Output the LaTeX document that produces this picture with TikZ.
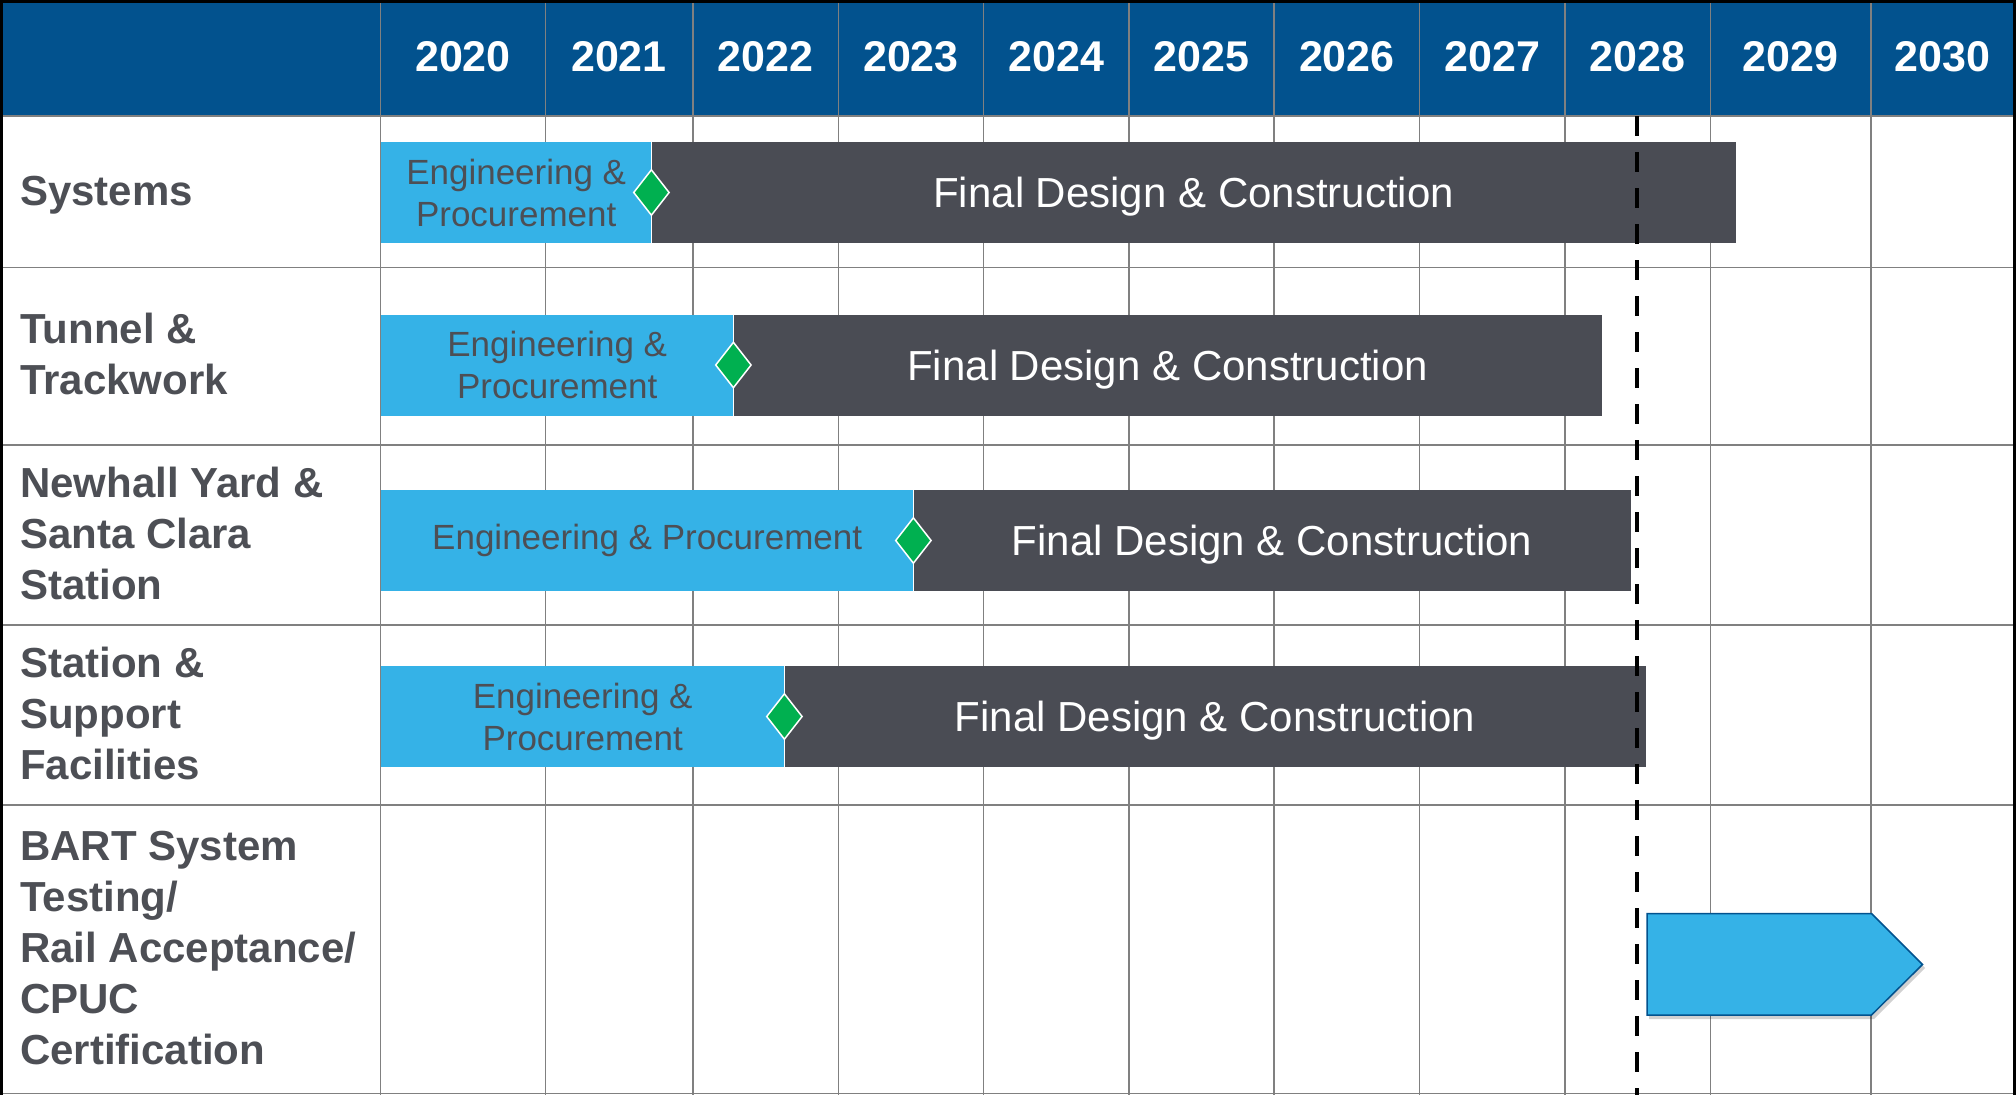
\documentclass[tikz,border=0pt]{standalone}
\usepackage{fontspec}
\setmainfont{Liberation Sans}
\usetikzlibrary{positioning,shapes.geometric,calc}

\definecolor{hdrblue}{HTML}{02528E}
\definecolor{engblue}{HTML}{35B2E7}
\definecolor{fdgray}{HTML}{4A4C54}
\definecolor{txtgray}{HTML}{4D4F55}
\definecolor{msgreen}{HTML}{00B050}
\definecolor{gridgray}{HTML}{808080}

\begin{document}
\begin{tikzpicture}[x=1pt,y=-1pt,
    year/.style={text=white,inner sep=0pt,font=\fontsize{43}{50}\selectfont\bfseries},
    rowlabel/.style={anchor=west,inner sep=0pt,align=left,text=txtgray,font=\fontsize{42}{51}\selectfont\bfseries},
    engbar/.style={anchor=west,fill=engblue,inner sep=0pt,minimum height=101pt,align=center,text=txtgray,font=\fontsize{35}{42}\selectfont},
    fdbar/.style={right=0pt of #1,fill=fdgray,inner sep=0pt,text depth=0pt,minimum height=101pt,text=white,font=\fontsize{42}{50}\selectfont},
    milestone/.style={diamond,fill=msgreen,draw=white,line width=1.5pt,minimum width=36pt,minimum height=46pt,inner sep=0pt},
    gridline/.style={gridgray,line width=1.5pt}
]
    \useasboundingbox (0,0) rectangle (2016,1095);

    % ヘッダー
    \fill[hdrblue] (0,0) rectangle (2016,116);

    % 罫線
    \foreach \gx in {380.6,545.3,693,838.5,983.7,1129,1274.2,1419.5,1565,1710.5,1871}
        \draw[gridline] (\gx,0) -- (\gx,1095);
    \foreach \gy in {116,267.5,445,625,805,1093.5}
        \draw[gridline] (0,\gy) -- (2016,\gy);

    % 年
    \foreach \yr/\xc in {2020/463,2021/619,2022/765.8,2023/911,2024/1056.4,2025/1201.6,2026/1346.9,2027/1492.3,2028/1637.8,2029/1790.8,2030/1942.5}
        \node[year] (y\yr) at (\xc,57) {\yr};

    % 行ラベル
    \node[rowlabel] (sys) at (20,195.5) {Systems};
    \node[rowlabel] (tun) at (20,354) {Tunnel \&\\Trackwork};
    \node[rowlabel] (new) at (20,533) {Newhall Yard \&\\Santa Clara\\Station};
    \node[rowlabel] (sta) at (20,713) {Station \&\\Support\\Facilities};
    \node[rowlabel] (bart) at (20,948.5) {BART System\\Testing/\\Rail Acceptance/\\CPUC\\Certification};

    % バー
    \node[engbar,minimum width=270pt] (sysEng) at (381,192.5) {Engineering \&\\Procurement};
    \node[fdbar=sysEng,minimum width=1084pt] (sysFd) {Final Design \& Construction};
    \node[engbar,minimum width=352pt] (tunEng) at (381,365) {Engineering \&\\Procurement};
    \node[fdbar=tunEng,minimum width=868pt] (tunFd) {Final Design \& Construction};
    \node[engbar,minimum width=532pt] (newEng) at (381,540.5) {Engineering \& Procurement};
    \node[fdbar=newEng,minimum width=717pt] (newFd) {Final Design \& Construction};
    \node[engbar,minimum width=403pt] (staEng) at (381,716.5) {Engineering \&\\Procurement};
    \node[fdbar=staEng,minimum width=861pt] (staFd) {Final Design \& Construction};

    % マイルストーン
    \node[milestone] (sysMs) at (sysEng.east) {};
    \node[milestone] (tunMs) at (tunEng.east) {};
    \node[milestone] (newMs) at (newEng.east) {};
    \node[milestone] (staMs) at (staEng.east) {};

    % 試験の矢印
    \fill[black,opacity=0.18] (1649,917) -- (1874,917) -- (1925,968) -- (1874,1019) -- (1649,1019) -- cycle;
    \draw[fill=engblue,draw=hdrblue,line width=1.5pt,line join=miter]
        (1647,913.5) -- (1871.5,913.5) -- (1922.5,964.5) -- (1871.5,1015) -- (1647,1015) -- cycle;

    % 現在線
    \coordinate (nowTop) at (1637,116);
    \coordinate (nowBot) at (1637,1095);
    \draw[line width=4pt,dash pattern=on 20pt off 16pt] (nowTop) -- (nowBot);

    % 外枠
    \draw[line width=3pt] (1.5,1095) -- (1.5,1.5) -- (2014.5,1.5) -- (2014.5,1095);
\end{tikzpicture}
\end{document}
